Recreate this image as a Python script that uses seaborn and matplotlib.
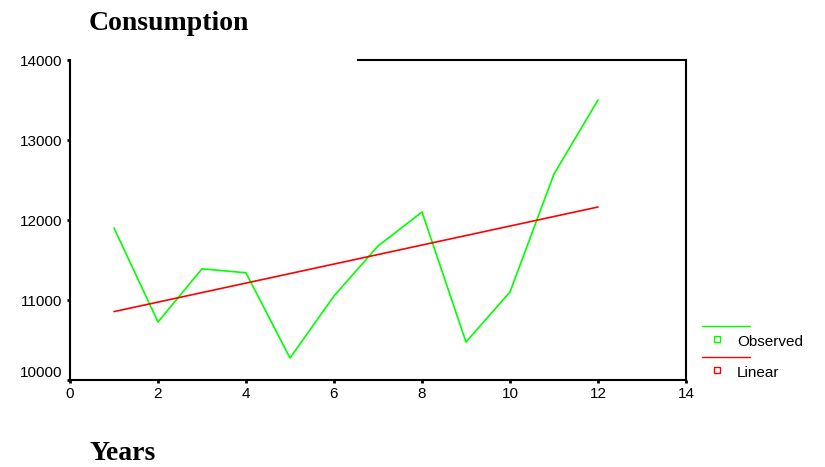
import matplotlib
matplotlib.use("Agg")
import matplotlib.pyplot as plt
from matplotlib.lines import Line2D
import pandas as pd
import seaborn as sns

# Annual consumption observations
years = [1, 2, 3, 4, 5, 6, 7, 8, 9, 10, 11, 12]
consumption = [11900, 10725, 11390, 11340, 10275, 11050,
               11675, 12100, 10475, 11100, 12575, 13500]
x_ticks = [0, 2, 4, 6, 8, 10, 12, 14]
y_ticks = [10000, 11000, 12000, 13000, 14000]

df = pd.DataFrame({"Years": years, "Consumption": consumption})

sns.set_theme(style="white")
plt.rcParams["font.family"] = ["Liberation Sans", "DejaVu Sans"]

W, H = 825, 467
fig = plt.figure(figsize=(W / 100, H / 100), dpi=100)
ax = fig.add_axes([70 / W, 1 - 380 / H, 616 / W, 320 / H])

green = "#00ff00"
red = "#ff0000"

sns.lineplot(data=df, x="Years", y="Consumption", color=green, lw=1.2, ax=ax)
sns.regplot(data=df, x="Years", y="Consumption", scatter=False, ci=None,
            color=red, line_kws={"lw": 1.2}, ax=ax)

ax.set_xlim(x_ticks[0], x_ticks[-1])
ax.set_ylim(y_ticks[0], y_ticks[-1])
ax.set_xticks(x_ticks)
ax.set_yticks(y_ticks)
ax.set_xlabel("")
ax.set_ylabel("")
ax.tick_params(axis="both", which="major", direction="out", length=2.2,
               width=2, color="black", labelsize=11, labelcolor="black",
               bottom=True, left=True, top=False, right=False)
ax.tick_params(axis="x", pad=2.5)
ax.tick_params(axis="y", pad=3.5)
ax.yaxis.get_major_ticks()[0].label1.set_va("bottom")

for side in ("left", "bottom", "right"):
    ax.spines[side].set_visible(True)
    ax.spines[side].set_color("black")
    ax.spines[side].set_linewidth(1.5)
ax.spines["top"].set_visible(False)
ax.add_line(Line2D([(358 - 70) / 616, 1], [1, 1], transform=ax.transAxes,
                   color="black", lw=1.5, clip_on=False,
                   solid_capstyle="projecting"))
ax.grid(False)

# Legend in the right margin: line swatch above a small square marker
def fx(px):
    return px / W


def fy(py):
    return 1 - py / H


for color, line_y, mark_y, label in [(green, 326, 339, "Observed"),
                                     (red, 357, 370, "Linear")]:
    fig.add_artist(Line2D([fx(702), fx(750)], [fy(line_y), fy(line_y)],
                          color=color, lw=1.0))
    fig.add_artist(Line2D([fx(717)], [fy(mark_y)], marker="s", markersize=4.5,
                          markerfacecolor="white", markeredgecolor=color,
                          markeredgewidth=1.0, linestyle="none"))
    fig.text(fx(737), fy(mark_y + 3), label, fontsize=11, va="center",
             ha="left", color="black")

serif_bold = dict(family=["Liberation Serif", "DejaVu Serif"],
                  fontweight="bold", fontsize=20, color="black")
fig.text(fx(89), fy(23), "Consumption", va="center", ha="left", **serif_bold)
fig.text(fx(89), fy(454), "Years", va="center", ha="left", **serif_bold)

fig.savefig("out.png", dpi=100, facecolor="white")
